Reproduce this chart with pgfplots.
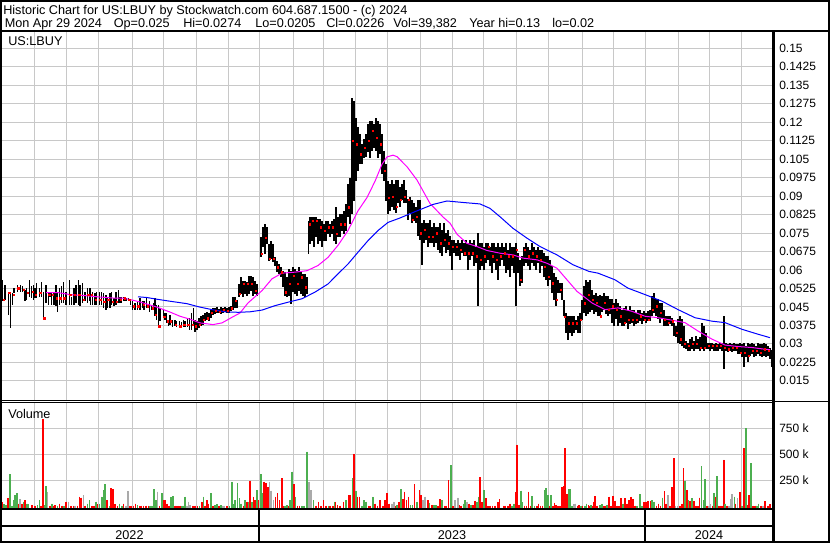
\documentclass[border=0pt]{standalone}
\usepackage{pgfplots}
\pgfplotsset{compat=1.18}
\usepackage{pgfplotstable}
\usepackage{fontspec}
\setmainfont{Liberation Sans}

\definecolor{gridc}{RGB}{200,200,200}
\definecolor{vred}{RGB}{255,0,0}
\definecolor{vgreen}{RGB}{76,175,80}
\definecolor{vgray}{RGB}{170,170,170}
\definecolor{mablue}{RGB}{0,0,255}
\definecolor{mapink}{RGB}{255,0,255}

% daily bars: x = chart column, high, low, close
\pgfplotstableread{
x h l c
2.7 0.0560 0.0472 0.0479
5 0.0539 0.0479 0.0485
8.3 0.0506 0.0418 0.0506
10.7 0.0506 0.0366 0.0499
12.7 0.0506 0.0458 0.0499
14 0.0526 0.0506 0.0512
17.5 0.0539 0.0512 0.0526
20.7 0.0539 0.0512 0.0526
22.7 0.0533 0.0512 0.0519
25 0.0519 0.0472 0.0499
26.7 0.0526 0.0479 0.0506
29.3 0.0558 0.0492 0.0526
31.7 0.0533 0.0485 0.0512
33.3 0.0539 0.0479 0.0512
35 0.0526 0.0485 0.0499
36.7 0.0546 0.0485 0.0512
39.3 0.0526 0.0492 0.0506
41.3 0.0553 0.0492 0.0519
43.3 0.0512 0.0404 0.0404
46 0.0539 0.0465 0.0499
48.3 0.0512 0.0458 0.0499
50 0.0512 0.0492 0.0506
51.7 0.0512 0.0458 0.0499
54 0.0506 0.0458 0.0485
56 0.0539 0.0452 0.0485
57.3 0.0512 0.0431 0.0465
59.3 0.0526 0.0458 0.0485
61.7 0.0533 0.0465 0.0499
63.3 0.0553 0.0465 0.0485
66 0.0512 0.0458 0.0472
69.3 0.0560 0.0458 0.0499
71.7 0.0492 0.0458 0.0458
74 0.0526 0.0458 0.0499
76 0.0539 0.0465 0.0526
78.3 0.0558 0.0458 0.0499
80 0.0539 0.0452 0.0452
82.7 0.0546 0.0465 0.0479
85 0.0512 0.0472 0.0479
87.3 0.0526 0.0465 0.0499
89.3 0.0526 0.0472 0.0485
90.7 0.0526 0.0458 0.0499
92.7 0.0512 0.0458 0.0465
95 0.0506 0.0458 0.0479
96.7 0.0512 0.0458 0.0492
99.3 0.0512 0.0458 0.0479
101.7 0.0512 0.0458 0.0485
103.3 0.0506 0.0445 0.0472
106 0.0499 0.0438 0.0465
107.3 0.0485 0.0445 0.0479
110 0.0506 0.0445 0.0472
111.7 0.0512 0.0458 0.0472
114 0.0485 0.0452 0.0465
116 0.0512 0.0458 0.0472
118.3 0.0519 0.0465 0.0512
120 0.0492 0.0465 0.0479
121.7 0.0492 0.0465 0.0479
124 0.0492 0.0472 0.0485
126 0.0485 0.0472 0.0479
128.3 0.0485 0.0472 0.0479
130.7 0.0472 0.0458 0.0465
132.7 0.0472 0.0438 0.0452
135 0.0465 0.0438 0.0438
137.3 0.0472 0.0438 0.0452
140 0.0485 0.0438 0.0445
142.7 0.0472 0.0445 0.0458
144 0.0472 0.0438 0.0445
146.7 0.0485 0.0445 0.0452
149.3 0.0472 0.0431 0.0445
151.7 0.0458 0.0438 0.0445
153.3 0.0465 0.0445 0.0452
155 0.0485 0.0411 0.0418
156.7 0.0458 0.0398 0.0404
158.3 0.0458 0.0364 0.0371
160 0.0445 0.0391 0.0404
163.3 0.0438 0.0404 0.0411
165 0.0425 0.0398 0.0404
166.7 0.0425 0.0384 0.0391
168.3 0.0398 0.0371 0.0384
170 0.0418 0.0377 0.0391
172.7 0.0398 0.0368 0.0377
175 0.0398 0.0371 0.0377
176.7 0.0391 0.0368 0.0377
179.3 0.0391 0.0364 0.0371
181.7 0.0388 0.0368 0.0377
183.3 0.0398 0.0368 0.0377
185 0.0391 0.0368 0.0377
187.3 0.0404 0.0368 0.0377
189.3 0.0404 0.0357 0.0371
191.7 0.0425 0.0357 0.0377
193.3 0.0445 0.0377 0.0384
195 0.0398 0.0350 0.0371
197 0.0391 0.0357 0.0364
199 0.0404 0.0364 0.0377
201 0.0411 0.0371 0.0384
203 0.0418 0.0377 0.0398
205 0.0425 0.0391 0.0411
207 0.0431 0.0398 0.0404
209 0.0425 0.0391 0.0411
211 0.0438 0.0404 0.0425
213 0.0445 0.0418 0.0431
215 0.0445 0.0422 0.0435
217 0.0448 0.0425 0.0438
219 0.0442 0.0425 0.0431
221 0.0448 0.0422 0.0438
223 0.0445 0.0425 0.0438
225 0.0450 0.0428 0.0442
227 0.0445 0.0425 0.0435
229 0.0448 0.0425 0.0438
231 0.0452 0.0435 0.0445
233 0.0489 0.0438 0.0465
235 0.0489 0.0445 0.0476
237 0.0476 0.0445 0.0472
239 0.0543 0.0489 0.0503
241 0.0570 0.0503 0.0543
243 0.0557 0.0489 0.0543
245 0.0557 0.0503 0.0543
247 0.0550 0.0496 0.0543
249 0.0577 0.0503 0.0530
251 0.0577 0.0516 0.0543
253 0.0570 0.0496 0.0530
255 0.0557 0.0503 0.0516
257 0.0543 0.0496 0.0510
261 0.0732 0.0651 0.0665
263 0.0773 0.0692 0.0719
265 0.0786 0.0665 0.0732
267 0.0773 0.0705 0.0719
269 0.0705 0.0638 0.0645
271 0.0719 0.0645 0.0658
273 0.0705 0.0631 0.0645
275 0.0651 0.0616 0.0631
277 0.0638 0.0590 0.0611
279 0.0624 0.0584 0.0597
281 0.0611 0.0570 0.0590
283 0.0597 0.0530 0.0557
285 0.0590 0.0496 0.0510
287 0.0570 0.0489 0.0503
289 0.0604 0.0496 0.0543
291 0.0597 0.0462 0.0476
293 0.0611 0.0510 0.0577
295 0.0604 0.0503 0.0557
297 0.0597 0.0496 0.0543
299 0.0611 0.0516 0.0584
301 0.0590 0.0503 0.0570
303 0.0584 0.0496 0.0543
305 0.0584 0.0489 0.0530
307 0.0570 0.0503 0.0543
308.7 0.0800 0.0665 0.0786
310 0.0813 0.0705 0.0800
312 0.0813 0.0719 0.0800
314 0.0813 0.0692 0.0760
316 0.0813 0.0732 0.0800
318 0.0806 0.0705 0.0786
320 0.0806 0.0719 0.0773
322 0.0800 0.0692 0.0719
324 0.0786 0.0719 0.0760
326 0.0800 0.0719 0.0746
328 0.0800 0.0746 0.0773
330 0.0786 0.0732 0.0760
332 0.0800 0.0746 0.0773
334 0.0806 0.0719 0.0760
336 0.0854 0.0705 0.0746
338 0.0813 0.0732 0.0773
340 0.0827 0.0732 0.0786
342 0.0827 0.0760 0.0800
344 0.0840 0.0746 0.0786
346 0.0868 0.0760 0.0800
348 0.0948 0.0813 0.0854
350 0.0975 0.0786 0.0881
352 0.1299 0.0827 0.1125
354 0.1286 0.0880 0.1151
356 0.1218 0.0961 0.1110
358 0.1180 0.1002 0.1083
360 0.1151 0.1029 0.1070
362 0.1110 0.1030 0.1056
364 0.1130 0.1056 0.1097
366 0.1151 0.1060 0.1110
368 0.1191 0.1080 0.1125
370 0.1204 0.1056 0.1110
372 0.1204 0.1083 0.1164
374 0.1191 0.1097 0.1151
376 0.1218 0.1083 0.1137
378 0.1204 0.1056 0.1124
380 0.1191 0.1070 0.1110
382 0.1151 0.0990 0.1050
384 0.1083 0.0961 0.1002
386 0.1030 0.0880 0.0934
388 0.0961 0.0827 0.0894
390 0.0948 0.0840 0.0911
392 0.0965 0.0857 0.0897
394 0.0951 0.0843 0.0870
396 0.0965 0.0830 0.0857
398 0.0965 0.0870 0.0911
400 0.0938 0.0857 0.0884
402 0.0951 0.0884 0.0911
404 0.0965 0.0870 0.0897
406 0.0924 0.0870 0.0897
408 0.0890 0.0803 0.0884
410 0.0897 0.0830 0.0870
412 0.0884 0.0790 0.0803
414 0.0870 0.0800 0.0830
416 0.0857 0.0790 0.0817
418 0.0884 0.0736 0.0884
420 0.0884 0.0722 0.0749
422 0.0790 0.0620 0.0776
424 0.0803 0.0709 0.0763
426 0.0790 0.0722 0.0749
428 0.0790 0.0695 0.0736
430 0.0803 0.0709 0.0722
432 0.0776 0.0709 0.0736
434 0.0790 0.0695 0.0722
436 0.0776 0.0709 0.0749
438 0.0776 0.0682 0.0722
440 0.0790 0.0668 0.0709
442 0.0763 0.0655 0.0668
444 0.0790 0.0695 0.0722
446 0.0749 0.0668 0.0695
448 0.0763 0.0682 0.0709
450 0.0736 0.0655 0.0682
452 0.0722 0.0600 0.0695
454 0.0722 0.0668 0.0695
456 0.0709 0.0655 0.0695
458 0.0722 0.0655 0.0668
460 0.0709 0.0641 0.0682
462 0.0722 0.0668 0.0682
464 0.0709 0.0655 0.0668
466 0.0722 0.0655 0.0682
468 0.0709 0.0600 0.0668
470 0.0722 0.0641 0.0682
472 0.0709 0.0655 0.0668
474 0.0722 0.0614 0.0655
476 0.0695 0.0627 0.0655
478 0.0750 0.0452 0.0750
480 0.0709 0.0600 0.0641
482 0.0709 0.0614 0.0655
484 0.0695 0.0600 0.0655
486 0.0709 0.0627 0.0668
488 0.0709 0.0641 0.0695
490 0.0695 0.0614 0.0641
492 0.0709 0.0587 0.0655
494 0.0709 0.0627 0.0682
496 0.0695 0.0600 0.0641
498 0.0709 0.0560 0.0668
500 0.0695 0.0614 0.0655
502 0.0709 0.0641 0.0682
504 0.0695 0.0614 0.0668
506 0.0709 0.0587 0.0641
508 0.0682 0.0600 0.0655
510 0.0709 0.0573 0.0614
512 0.0695 0.0614 0.0655
514 0.0695 0.0587 0.0627
516 0.0709 0.0452 0.0682
518 0.0668 0.0587 0.0614
520 0.0641 0.0533 0.0560
522 0.0655 0.0546 0.0614
524 0.0695 0.0614 0.0682
526 0.0709 0.0627 0.0668
528 0.0695 0.0614 0.0655
530 0.0682 0.0600 0.0641
532 0.0709 0.0627 0.0668
534 0.0695 0.0614 0.0641
536 0.0682 0.0600 0.0655
538 0.0695 0.0627 0.0668
540 0.0682 0.0587 0.0641
542 0.0682 0.0614 0.0655
544 0.0668 0.0573 0.0614
546 0.0655 0.0560 0.0600
548 0.0655 0.0533 0.0573
550 0.0641 0.0560 0.0587
552 0.0614 0.0506 0.0546
554 0.0587 0.0479 0.0506
556 0.0573 0.0452 0.0479
558 0.0560 0.0506 0.0533
560 0.0546 0.0506 0.0520
562 0.0546 0.0479 0.0520
564 0.0479 0.0411 0.0411
566 0.0425 0.0344 0.0398
568 0.0411 0.0317 0.0384
570 0.0411 0.0344 0.0371
572 0.0411 0.0331 0.0384
574 0.0411 0.0344 0.0384
576 0.0398 0.0357 0.0384
578 0.0411 0.0344 0.0398
580 0.0425 0.0344 0.0398
582 0.0479 0.0398 0.0452
584 0.0533 0.0425 0.0465
586 0.0560 0.0412 0.0480
588 0.0553 0.0420 0.0500
590 0.0560 0.0430 0.0466
592 0.0520 0.0439 0.0480
594 0.0500 0.0420 0.0480
596 0.0506 0.0430 0.0466
598 0.0493 0.0412 0.0439
600 0.0500 0.0412 0.0412
602 0.0493 0.0430 0.0452
604 0.0506 0.0439 0.0466
606 0.0493 0.0420 0.0452
608 0.0493 0.0412 0.0439
610 0.0480 0.0420 0.0439
612 0.0480 0.0386 0.0452
614 0.0466 0.0372 0.0445
616 0.0480 0.0400 0.0439
618 0.0466 0.0372 0.0399
620 0.0452 0.0386 0.0412
622 0.0439 0.0372 0.0399
624 0.0445 0.0372 0.0386
626 0.0452 0.0386 0.0412
628 0.0439 0.0359 0.0399
630 0.0452 0.0380 0.0412
632 0.0439 0.0386 0.0399
634 0.0439 0.0372 0.0386
636 0.0425 0.0380 0.0399
638 0.0439 0.0386 0.0412
640 0.0439 0.0392 0.0412
642 0.0425 0.0380 0.0399
644 0.0432 0.0392 0.0399
646 0.0425 0.0386 0.0405
648 0.0432 0.0392 0.0399
650 0.0439 0.0392 0.0412
652 0.0493 0.0412 0.0439
654 0.0506 0.0425 0.0466
656 0.0480 0.0412 0.0452
658 0.0480 0.0399 0.0445
660 0.0466 0.0386 0.0425
662 0.0466 0.0399 0.0439
664 0.0439 0.0372 0.0399
666 0.0412 0.0372 0.0392
668 0.0412 0.0372 0.0386
670 0.0412 0.0380 0.0399
672 0.0405 0.0372 0.0392
674 0.0386 0.0332 0.0359
676 0.0372 0.0326 0.0345
678 0.0399 0.0305 0.0345
680 0.0412 0.0299 0.0319
682 0.0399 0.0292 0.0305
684 0.0372 0.0285 0.0299
686 0.0312 0.0278 0.0305
688 0.0305 0.0272 0.0292
690 0.0319 0.0272 0.0285
692 0.0326 0.0278 0.0299
694 0.0312 0.0272 0.0285
696 0.0332 0.0278 0.0299
698 0.0319 0.0278 0.0292
700 0.0326 0.0272 0.0285
702 0.0386 0.0278 0.0292
704 0.0372 0.0272 0.0285
706 0.0345 0.0278 0.0292
708 0.0305 0.0278 0.0292
710 0.0305 0.0272 0.0285
712 0.0305 0.0278 0.0292
714 0.0299 0.0272 0.0285
716 0.0305 0.0272 0.0292
718 0.0299 0.0272 0.0285
720 0.0305 0.0278 0.0292
722 0.0305 0.0272 0.0285
724 0.0412 0.0198 0.0285
726 0.0305 0.0272 0.0292
728 0.0299 0.0265 0.0278
730 0.0305 0.0272 0.0292
732 0.0299 0.0265 0.0285
734 0.0305 0.0272 0.0292
736 0.0299 0.0272 0.0285
738 0.0299 0.0258 0.0278
740 0.0305 0.0258 0.0265
742 0.0299 0.0245 0.0278
744 0.0305 0.0205 0.0265
746 0.0292 0.0245 0.0265
748 0.0305 0.0225 0.0252
750 0.0299 0.0252 0.0278
752 0.0305 0.0258 0.0272
754 0.0299 0.0245 0.0265
756 0.0292 0.0252 0.0272
758 0.0305 0.0258 0.0278
760 0.0299 0.0252 0.0265
762 0.0299 0.0245 0.0265
764 0.0305 0.0252 0.0278
766 0.0299 0.0245 0.0265
768 0.0292 0.0252 0.0272
770 0.0285 0.0238 0.0258
772 0.0274 0.0205 0.0226
}\price

% volume in thousands, split by bar colour
\pgfplotstableread{
x v
1.7 40
8 73
18.3 24
21.7 24
25 56
31.7 5
35 1
40.7 2
42.7 840
50 1
53.3 2
55 8
59.3 24
61.7 1
66 40
70.7 2
73.3 2
77.3 2
79.3 89
81 82
85 2
91.7 2
94 2
97.3 18
106.7 56
110.7 169
112.7 160
115 18
117.3 2
123.3 24
129.3 2
131 1
133.3 2
135.3 24
139.3 1
141 1
143.3 2
146 2
148.3 1
159.3 2
163.3 56
165 56
166.7 24
169 2
175 1
176.7 2
178.3 2
180 2
192.7 2
195 2
197.3 2
201.7 40
205 2
206.7 56
208.3 24
212.7 1
219 1
226.7 2
243.3 2
246.7 40
250 244
253.3 89
255 56
258.3 56
264 234
266 218
267.7 179
275.3 89
277.3 121
279.3 56
281.7 266
283.3 2
288.3 2
293.7 208
297.3 2
299.3 2
316 2
318.3 40
320.7 2
323.3 56
326 2
330 2
332.7 2
335.5 40
337.3 8
340 2
343.3 40
348.3 105
350 105
353.7 502
357.3 89
359.3 89
368.3 2
370 2
375 24
377.3 2
380 56
382.7 2
385 56
386.7 121
389 24
395.7 2
399 40
402.7 63
404.3 137
406.3 56
408.3 89
414.3 211
419.3 153
421 105
427.7 56
431.7 8
437.7 1
439.7 63
444.3 2
446 2
448.3 250
452.7 1
459 8
461 1
469 24
473 8
475 50
480 276
481.7 40
485.7 73
487.7 1
490 1
492.3 2
495 1
497.7 40
499.3 66
503.3 1
505 2
507.7 2
509.7 24
515.7 137
517 589
519 8
524.3 2
526.3 2
528.3 137
530.3 2
536.7 2
538.3 24
540.3 2
542.3 1
549.3 1
553 1
554.3 31
556 8
557.7 2
559.7 2
561.7 179
563.3 192
565 556
566.7 115
577.3 2
579 8
582.3 2
588.3 8
590 2
591.7 2
593.3 40
595 95
597 1
603 2
605 2
609 89
611 2
613 95
615 50
617 2
619 2
621 73
625 76
627 24
629 56
631 89
633 63
635 1
643.7 40
645.7 40
647.7 50
650.3 50
656.3 2
658.3 24
660.3 2
664.3 144
665.7 24
669.7 2
671.7 179
673.7 460
679.7 1
681.7 24
683.3 363
686.7 153
690 50
693.7 50
695.7 2
697.7 1
699.3 82
707 1
712.3 1
715 89
718.3 2
720 2
721.7 1
723.7 444
727 2
734.7 24
739.7 134
743.7 556
747.7 8
749 105
753 1
755 2
761 1
765 47
767.7 2
770 18
}\volred

\pgfplotstableread{
x v
4 18
6 8
9.7 308
11.7 3
13.3 56
15 105
16.7 121
23.3 40
26.7 24
28.3 18
37.3 8
39.3 56
45 8
46 192
51.7 24
57.3 2
64 1
87.3 24
89.3 56
96 40
99.3 18
101.7 89
103.3 153
105 208
109.3 2
119.3 24
121.7 2
137.3 8
150 2
151.7 2
154 160
155.7 56
161.7 121
170.7 89
172.7 95
181.7 2
183.3 2
185 89
199.3 2
203.3 89
210.7 121
215 5
216.7 18
220.7 8
229.3 1
231.7 234
233.3 18
235 56
237.3 218
239.3 73
240.7 24
245 56
248.3 40
251.7 40
256.7 153
260.7 308
262.3 121
285 2
286.7 8
290 56
292 331
295.3 89
301.7 2
304 2
306.7 524
313.3 56
328.3 2
334.3 40
346 56
352.3 266
355.7 147
361.7 2
364 56
366 40
372.7 89
397 8
401 160
410.3 8
412.3 8
417 40
429.3 31
433.7 8
435.7 8
441.7 56
450.7 395
463.3 24
465 56
471 8
477 40
478.3 89
484 153
511.7 2
513.7 24
521 146
522.3 37
531.7 95
534.3 2
544.3 153
546 169
547.7 105
551 105
568.3 160
570 160
571.7 2
581 2
584.7 2
586.3 24
591 8
600 8
601.7 18
607 8
623 24
637 2
639.7 115
641.7 2
652 56
654 40
662.3 82
685 244
688.3 56
691.7 73
701.3 385
703.3 56
705 256
713.7 121
716.7 289
725 24
734.3 89
741.7 2
745.7 750
751 411
756.7 2
758.3 24
}\volgreen

\pgfplotstableread{
x v
20 66
47.3 131
68.3 40
75 2
83.3 105
126 2
127.7 144
157.3 137
186.7 2
188.3 40
190 8
222.7 2
224 2
269.3 234
271 147
273.3 56
309 234
311 153
391.7 24
393.7 40
423 56
425 89
455 56
457.7 82
467 40
573.3 18
575 24
667.7 105
675.3 2
677.3 2
708.7 2
710.3 18
729 2
730.3 63
731.7 115
737.3 73
763 2
}\volgray

\pgfplotsset{swpanel/.style={
  scale only axis, width=579.75pt, xmin=0, xmax=773, clip=true,
  axis line style={draw=none}, tick style={draw=none},
  xtick={34,66,98,132,163,196,228,259,293,323,355,387,420,452,483,516,548,582,613,645,678,709,741},
  xticklabels={},
  grid=major, major grid style={draw=gridc, line width=0.75pt},
  yticklabel pos=right,
  yticklabel style={anchor=west, inner sep=0pt, xshift=4.5pt, font=\fontsize{9}{10}\selectfont},
},
% vertical sticks drawn as error bars, no visible marker: {width}{direction}{colour}
sticks/.style n args={3}{only marks, mark=*, mark size=0pt, mark options={draw=none, fill=none},
  error bars/.cd, y dir=#2, y explicit, error mark=none,
  error bar style={line width=#1, draw=#3}},
}

\begin{document}
\begin{tikzpicture}
\path[use as bounding box] (0,0) rectangle (622.5pt,407.25pt);

% price panel
\begin{axis}[swpanel, at={(0pt,107.25pt)}, anchor=south west, height=276pt,
  ymin=0.00719, ymax=0.15662,
  ytick={0.015,0.0225,0.03,0.0375,0.045,0.0525,0.06,0.0675,0.075,0.0825,0.09,0.0975,0.105,0.1125,0.12,0.1275,0.135,0.1425,0.15},
  yticklabels={0.015,0.0225,0.03,0.0375,0.045,0.0525,0.06,0.0675,0.075,0.0825,0.09,0.0975,0.105,0.1125,0.12,0.1275,0.135,0.1425,0.15}]
\addplot[sticks={1pt}{both}{black}]
  table[x=x, y=c, y error plus expr=\thisrow{h}-\thisrow{c}, y error minus expr=\thisrow{c}-\thisrow{l}] {\price};
\addplot[only marks, mark=square*, mark size=0.5pt, color=vred, each nth point=2]
  table[x expr=\thisrow{x}+0.9, y=c] {\price};
\addplot[mapink, line width=0.75pt] coordinates {
(46,0.0508) (58,0.0508) (70,0.0500) (87,0.0495) (100,0.0490) (113,0.0486) (122,0.0486)
(130,0.0480) (140,0.0470) (157,0.0449) (170,0.0429) (180,0.0412) (190,0.0400) (200,0.0385)
(213,0.0378) (222,0.0385) (233,0.0410) (240,0.0425) (248,0.0466) (262,0.0516) (272,0.0564)
(282,0.0587) (295,0.0591) (307,0.0597) (318,0.0618) (328,0.0651) (338,0.0700) (348,0.0760)
(358,0.0840) (367,0.0894) (375,0.0960) (382,0.1029) (387,0.1059) (393,0.1066) (397,0.1060)
(407,0.1019) (417,0.0965) (430,0.0870) (443,0.0815) (450,0.0790) (457,0.0745) (467,0.0708)
(477,0.0695) (487,0.0679) (500,0.0668) (513,0.0661) (523,0.0648) (537,0.0641) (547,0.0627)
(557,0.0607) (567,0.0560) (577,0.0513) (587,0.0482) (592,0.0466) (605,0.0439) (618,0.0446)
(632,0.0432) (645,0.0412) (658,0.0406) (672,0.0396) (685,0.0386) (698,0.0352) (712,0.0319)
(725,0.0295) (738,0.0289) (752,0.0285) (765,0.0278) (770,0.0276)};
\addplot[mablue, line width=0.75pt] coordinates {
(138,0.0491) (147,0.0488) (157,0.0481) (170,0.0473) (187,0.0463) (199,0.0450) (213,0.0438)
(225,0.0430) (238,0.0428) (250,0.0430) (262,0.0437) (275,0.0455) (288,0.0469) (302,0.0483)
(315,0.0510) (328,0.0543) (338,0.0584) (348,0.0624) (358,0.0672) (368,0.0719) (378,0.0760)
(388,0.0793) (400,0.0811) (417,0.0840) (433,0.0866) (447,0.0880) (463,0.0874) (480,0.0868)
(490,0.0850) (500,0.0816) (513,0.0769) (527,0.0729) (540,0.0695) (557,0.0661) (573,0.0621)
(589,0.0594) (598,0.0587) (615,0.0560) (628,0.0526) (645,0.0500) (662,0.0473) (678,0.0439)
(695,0.0406) (712,0.0392) (725,0.0386) (742,0.0359) (758,0.0339) (770,0.0325)};
\end{axis}

% volume panel
\begin{axis}[swpanel, at={(0pt,25.5pt)}, anchor=south west, height=79.5pt,
  ymin=-29, ymax=994,
  ytick={250,500,750}, yticklabels={250 k,500 k,750 k}]
\addplot[sticks={1.2pt}{minus}{vred}]
  table[x=x, y=v, y error minus expr=\thisrow{v}+29] {\volred};
\addplot[sticks={1.2pt}{minus}{vgreen}]
  table[x=x, y=v, y error minus expr=\thisrow{v}+29] {\volgreen};
\addplot[sticks={1.2pt}{minus}{vgray}]
  table[x=x, y=v, y error minus expr=\thisrow{v}+29] {\volgray};
\end{axis}

% frame and texts, in pixel units of the reference
\begin{scope}[x=0.75pt, y=-0.75pt, yshift=407.25pt]
\draw[line width=1.5pt] (1,1) rectangle (829,542);
\draw[line width=1.5pt] (0,31) -- (830,31);
\draw[line width=1.75pt] (773.5,31) -- (773.5,543);
\draw[line width=0.75pt] (0,400.5) -- (773,400.5);
\draw[line width=0.75pt] (0,402.5) -- (773,402.5);
\draw[line width=0.75pt] (773,401) -- (830,401);
\draw[line width=1.5pt] (0,509) -- (773,509);
\draw[line width=1.5pt] (0,526) -- (773,526);
\draw[line width=1.5pt] (259,509) -- (259,542);
\draw[line width=1.5pt] (645,509) -- (645,542);
\begin{scope}[every node/.style={inner sep=0pt, font=\fontsize{9.5}{11}\selectfont}]
\node[anchor=base west] at (3,15) {Historic Chart for US:LBUY by Stockwatch.com 604.687.1500 - (c) 2024};
\node[anchor=base west] at (4.5,28) {Mon Apr 29 2024};
\node[anchor=base west] at (113.5,28) {Op=0.025};
\node[anchor=base west] at (183,28) {Hi=0.0274};
\node[anchor=base west] at (255,28) {Lo=0.0205};
\node[anchor=base west] at (326,28) {Cl=0.0226};
\node[anchor=base west] at (393,28) {Vol=39,382};
\node[anchor=base west] at (469,28) {Year hi=0.13};
\node[anchor=base west] at (552,28) {lo=0.02};
\node[anchor=base west] at (8,46) {US:LBUY};
\node[anchor=base west] at (8,418) {Volume};
\node[anchor=base] at (129.5,539.5) {2022};
\node[anchor=base] at (452,539.5) {2023};
\node[anchor=base] at (709,539.5) {2024};
\end{scope}
\end{scope}
\end{tikzpicture}
\end{document}
